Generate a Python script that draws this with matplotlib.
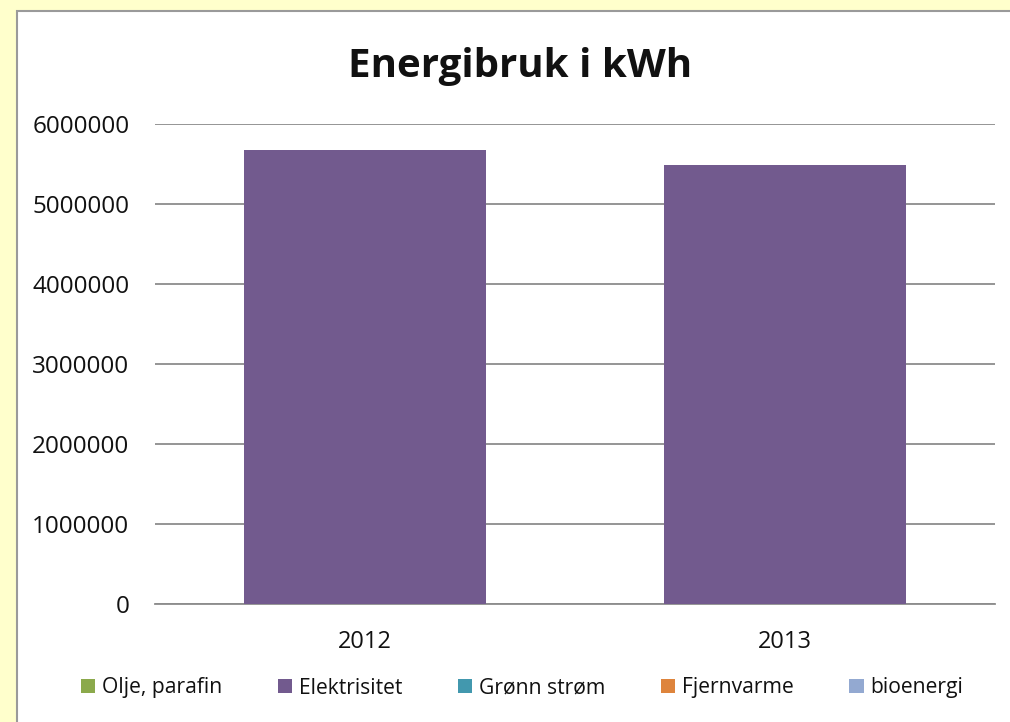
import matplotlib
matplotlib.use("Agg")
import matplotlib.pyplot as plt
from matplotlib.patches import Rectangle
import numpy as np

years = ["2012", "2013"]
series_names = ["Olje, parafin", "Elektrisitet", "Grønn strøm", "Fjernvarme", "bioenergi"]
olje = [0, 0]
elektrisitet = [5675000, 5487000]
gronn = [0, 0]
fjernvarme = [0, 0]
bioenergi = [0, 0]
colors = ["#8BA94B", "#725A8E", "#4298AE", "#DE843C", "#93A9D1"]
yticks = [0, 1000000, 2000000, 3000000, 4000000, 5000000, 6000000]

plt.rcParams['font.family'] = ['Open Sans', 'DejaVu Sans']

W, H = 1010, 722
fig = plt.figure(figsize=(W / 100, H / 100), dpi=100)
fig.patch.set_facecolor("#FFFFCC")

# chart panel with shadow
shadow = Rectangle((19 / W, 0), 1.1, 1 - 14 / H, transform=fig.transFigure,
                   facecolor="#A8A8A8", edgecolor="none", zorder=0)
panel = Rectangle((17 / W, -0.1), 1.1, 1.1 - 11 / H, transform=fig.transFigure,
                  facecolor="white", edgecolor="#9A9A9A", linewidth=1.5, zorder=1)
fig.patches.extend([shadow, panel])

ax = fig.add_axes([155 / W, 1 - 604 / H, 840 / W, 480 / H])
ax.set_facecolor("none")
ax.set_zorder(2)

x = np.arange(len(years))
data = [olje, elektrisitet, gronn, fjernvarme, bioenergi]
bottom = np.zeros(len(years))
handles = []
for name, vals, c in zip(series_names, data, colors):
    b = ax.bar(x, vals, width=0.574, bottom=bottom, color=c, label=name, zorder=3)
    bottom = bottom + np.array(vals)
    handles.append(b)

ax.set_xlim(-0.5, 1.5)
ax.set_ylim(0, 6000000)
ax.set_yticks(yticks)
ax.set_yticklabels([str(v) for v in yticks])
ax.set_xticks(x)
ax.set_xticklabels(years)
ax.grid(axis="y", color="#8C8C8C", linewidth=1.3, zorder=0)
ax.set_axisbelow(True)
for s in ["top", "right", "left"]:
    ax.spines[s].set_visible(False)
ax.spines["bottom"].set_color("#8C8C8C")
ax.spines["bottom"].set_linewidth(1.3)
ax.tick_params(axis="y", length=0, pad=18.5, labelsize=17.5, labelcolor="#111111")
ax.tick_params(axis="x", length=0, pad=19, labelsize=17, labelcolor="#111111")

fig.text(520 / W, 1 - 66 / H, "Energibruk i kWh", ha="center", va="center",
         fontsize=29, fontweight="bold", color="#111111", zorder=5)

leg = fig.legend(handles=handles, labels=series_names, loc="center",
                 bbox_to_anchor=(522 / W, 1 - 688 / H), ncol=5, frameon=False,
                 fontsize=15.2, handlelength=0.68, handleheight=0.68,
                 handletextpad=0.3, columnspacing=2.65)
for t in leg.get_texts():
    t.set_color("#111111")

fig.savefig("out.png", dpi=100, facecolor=fig.get_facecolor())
